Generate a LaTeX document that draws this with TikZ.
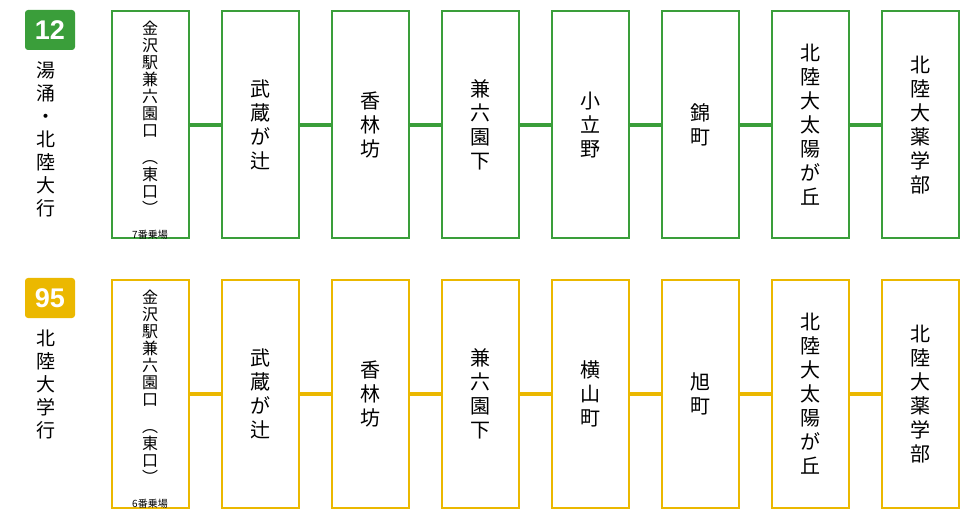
\documentclass[tikz,border=0pt]{standalone}
\usepackage{fontspec}
\setmainfont{Noto Sans CJK JP}
\newfontfamily\numfont{Liberation Sans}
\usetikzlibrary{positioning}
\definecolor{linegreen}{HTML}{3A9E3A}
\definecolor{lineyellow}{HTML}{EBB800}
\begin{document}
\begin{tikzpicture}[x=1pt,y=-1pt,node distance=110pt,on grid,
    stopbox/.style={rectangle,draw=#1,line width=2pt,minimum width=77pt,minimum height=227pt,
      inner sep=0pt,align=center,font=\fontsize{20}{24}\selectfont},
    badge/.style={rectangle,rounded corners=3pt,fill=#1,text=white,minimum width=50pt,
      minimum height=40pt,font=\numfont\bfseries\fontsize{27}{27}\selectfont},
    dest/.style={align=center,font=\fontsize{19}{23}\selectfont},
    gate/.style={font=\fontsize{10}{10}\selectfont,anchor=south},
    link/.style={draw=#1,line width=4pt}]
  \useasboundingbox (0,0) rectangle (960,510);
  % route 12
  \node[badge=linegreen] (b12) at (50,30) {12};
  \node[dest,anchor=north] (d12) at (46,58) {湯\\涌\\・\\北\\陸\\大\\行};
  \node[stopbox=linegreen] (g1) at (150,125) {};
  \node[align=center,anchor=north,font=\fontsize{16}{17}\selectfont] (g1t) at (150,18)
    {金\\沢\\駅\\兼\\六\\園\\口\\[10pt]︵\\東\\口\\︶};
  \node[gate] (g1s) at ([yshift=-3pt]g1.south) {7番乗場};
  \node[stopbox=linegreen] (g2) [right=of g1] {武\\蔵\\が\\辻};
  \node[stopbox=linegreen] (g3) [right=of g2] {香\\林\\坊};
  \node[stopbox=linegreen] (g4) [right=of g3] {兼\\六\\園\\下};
  \node[stopbox=linegreen] (g5) [right=of g4] {小\\立\\野};
  \node[stopbox=linegreen] (g6) [right=of g5] {錦\\町};
  \node[stopbox=linegreen] (g7) [right=of g6] {北\\陸\\大\\太\\陽\\が\\丘};
  \node[stopbox=linegreen] (g8) [right=of g7] {北\\陸\\大\\薬\\学\\部};
  \path[link=linegreen] (g1) -- (g2) (g2) -- (g3) (g3) -- (g4) (g4) -- (g5)
    (g5) -- (g6) (g6) -- (g7) (g7) -- (g8);
  % route 95
  \node[badge=lineyellow] (b95) at (50,298) {95};
  \node[dest,anchor=north] (d95) at (46,326) {北\\陸\\大\\学\\行};
  \node[stopbox=lineyellow] (y1) at (150,394) {};
  \node[align=center,anchor=north,font=\fontsize{16}{17}\selectfont] (y1t) at (150,287)
    {金\\沢\\駅\\兼\\六\\園\\口\\[10pt]︵\\東\\口\\︶};
  \node[gate] (y1s) at ([yshift=-3pt]y1.south) {6番乗場};
  \node[stopbox=lineyellow] (y2) [right=of y1] {武\\蔵\\が\\辻};
  \node[stopbox=lineyellow] (y3) [right=of y2] {香\\林\\坊};
  \node[stopbox=lineyellow] (y4) [right=of y3] {兼\\六\\園\\下};
  \node[stopbox=lineyellow] (y5) [right=of y4] {横\\山\\町};
  \node[stopbox=lineyellow] (y6) [right=of y5] {旭\\町};
  \node[stopbox=lineyellow] (y7) [right=of y6] {北\\陸\\大\\太\\陽\\が\\丘};
  \node[stopbox=lineyellow] (y8) [right=of y7] {北\\陸\\大\\薬\\学\\部};
  \path[link=lineyellow] (y1) -- (y2) (y2) -- (y3) (y3) -- (y4) (y4) -- (y5)
    (y5) -- (y6) (y6) -- (y7) (y7) -- (y8);
\end{tikzpicture}
\end{document}
